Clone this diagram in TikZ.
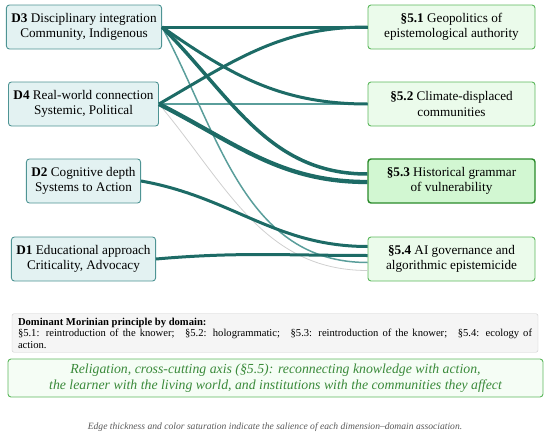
\documentclass[tikz,border=0pt]{standalone}
\usepackage{fontspec}
\setmainfont{Liberation Serif}
\definecolor{edgedark}{HTML}{1D6B66}
\definecolor{edgemid}{HTML}{5A9E9B}
\definecolor{edgepale}{HTML}{CFCFCF}
\definecolor{dimfill}{HTML}{E3F2F2}
\definecolor{dimline}{HTML}{4E9494}
\definecolor{secfill}{HTML}{EBFBEB}
\definecolor{secline}{HTML}{5DB85D}
\definecolor{secfillhi}{HTML}{D2F7D2}
\definecolor{seclinehi}{HTML}{2A8A2A}
\definecolor{axisgreen}{HTML}{3A8A3A}
\tikzset{
	dimbox/.style={draw=dimline,fill=dimfill,rounded corners=3pt,line width=0.9pt,
		align=center,minimum height=44pt,inner xsep=5pt,font=\fontsize{13.2}{15.5}\selectfont},
	secbox/.style={draw=secline,fill=secfill,rounded corners=3pt,line width=0.9pt,
		align=center,minimum height=44pt,minimum width=167pt,font=\fontsize{13.2}{15.5}\selectfont},
	secboxhi/.style={secbox,draw=seclinehi,fill=secfillhi,line width=1.4pt},
	strong/.style={edgedark,line width=3pt},
	strongest/.style={edgedark,line width=4.3pt},
	medium/.style={edgemid,line width=1.5pt},
	weak/.style={edgepale,line width=0.8pt}
}
\begin{document}
\begin{tikzpicture}[x=1pt,y=-1pt]
	\useasboundingbox (0,0) rectangle (550,439);
	% dimensions
	\node[dimbox] (d3) at (84,27) {\textbf{D3} Disciplinary integration\\Community, Indigenous};
	\node[dimbox] (d4) at (83.5,104) {\textbf{D4} Real-world connection\\Systemic, Political};
	\node[dimbox] (d2) at (83.5,181) {\textbf{D2} Cognitive depth\\Systems to Action};
	\node[dimbox] (d1) at (83.5,259) {\textbf{D1} Educational approach\\Criticality, Advocacy};
	% domains
	\node[secbox] (s51) at (451.5,27) {\textbf{§5.1} Geopolitics of\\epistemological authority};
	\node[secbox] (s52) at (451.5,104) {\textbf{§5.2} Climate-displaced\\communities};
	\node[secboxhi] (s53) at (451.5,181) {\textbf{§5.3} Historical grammar\\of vulnerability};
	\node[secbox] (s54) at (451.5,259) {\textbf{§5.4} AI governance and\\algorithmic epistemicide};
	% associations
	\draw[weak] (d4.east) to[out=-50,in=180] ([yshift=-11.5pt]s54.west);
	\draw[medium] (d3.east) to[out=-62,in=180] ([yshift=-3.5pt]s54.west);
	\draw[medium] (d4.east) -- (s52.west);
	\draw[strong] (d3.east) -- (s51.west);
	\draw[strong] (d3.east) to[out=-35,in=180] (s52.west);
	\draw[strong,line width=3.5pt] (d3.east) to[out=-45,in=180] ([yshift=7pt]s53.west);
	\draw[strong] (d4.east) to[out=30,in=180] (s51.west);
	\draw[strongest] (d4.east) to[out=-27,in=180] ([yshift=-1pt]s53.west);
	\draw[strong] (d2.east) to[out=-10,in=180] ([yshift=12.5pt]s54.west);
	\draw[strong] (d1.east) to[out=5,in=180] ([yshift=3.5pt]s54.west);
	% legend
	\node[draw=black!20,fill=black!4,rounded corners=2pt,text width=514pt,inner xsep=6pt,inner ysep=4pt,
		align=justify,font=\fontsize{10.6}{11.5}\selectfont] (morin) at (275,333)
		{\hyphenpenalty=10000\textbf{Dominant Morinian principle by domain:}\\
		§5.1: reintroduction of the knower;\quad §5.2: hologrammatic;\quad §5.3: reintroduction of the knower;\quad §5.4: ecology of \mbox{action.}};
	\node[draw=secline,fill=secfill!50,rounded corners=3pt,line width=0.9pt,minimum width=535pt,minimum height=38pt,
		align=center,text=axisgreen,font=\fontsize{13.8}{16.5}\selectfont\itshape] (axis) at (275.5,378)
		{Religation, cross-cutting axis (§5.5): reconnecting knowledge with action,\\
		the learner with the living world, and institutions with the communities they affect};
	\node[text=black!65,font=\fontsize{9.6}{10}\selectfont\itshape] (note) at (275,427)
		{Edge thickness and color saturation indicate the salience of each dimension–domain association.};
\end{tikzpicture}
\end{document}
